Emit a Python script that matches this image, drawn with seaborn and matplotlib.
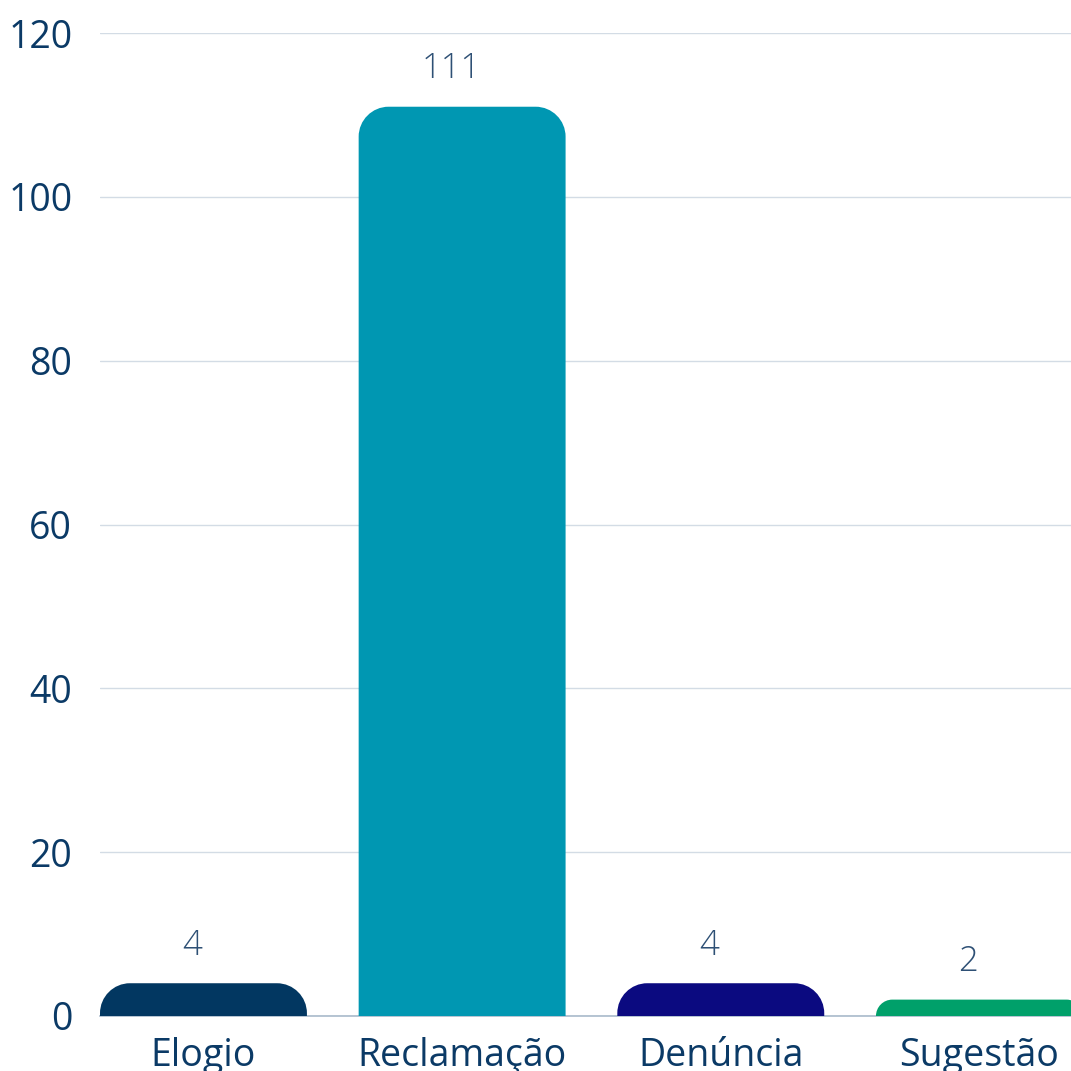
import matplotlib
matplotlib.use("Agg")
import matplotlib.pyplot as plt
from matplotlib.path import Path
from matplotlib.patches import PathPatch
import seaborn as sns
import pandas as pd

categorias = ["Elogio", "Reclamação", "Denúncia", "Sugestão"]
quantidades = [4, 111, 4, 2]
cores = ["#023761", "#0097B2", "#0B0A80", "#00A06A"]
ticks_y = [0, 20, 40, 60, 80, 100, 120]

sns.set_theme(style="white")
plt.rcParams["font.family"] = ["Open Sans", "DejaVu Sans"]

W = H = 1071
DPI = 100
fig = plt.figure(figsize=(W / DPI, H / DPI), dpi=DPI)
left_px, right_px, top_px, bottom_px = 100, 1071, 33, 1016
ax = fig.add_axes([left_px / W, (H - bottom_px) / H,
                   (right_px - left_px) / W, (bottom_px - top_px) / H])

df = pd.DataFrame({"categoria": categorias, "quantidade": quantidades})
sns.barplot(data=df, x="categoria", y="quantidade", hue="categoria",
            palette=cores, saturation=1, width=0.8, legend=False, ax=ax,
            zorder=3)

xmin, xmax = -0.4, 3.354
ax.set_xlim(xmin, xmax)
ax.set_ylim(0, 120)

# pixel scale of each axis, used to keep the corner radius round on screen
px_x = (right_px - left_px) / (xmax - xmin)
px_y = (bottom_px - top_px) / 120.0
radius_px = 30
k = 0.5523

for patch in list(ax.patches):
    x0, y0 = patch.get_x(), patch.get_y()
    w, h = patch.get_width(), patch.get_height()
    x1, y1 = x0 + w, y0 + h
    r = min(radius_px, h * px_y)
    rx, ry = r / px_x, r / px_y
    verts = [
        (x0, y0), (x0, y1 - ry),
        (x0, y1 - ry + k * ry), (x0 + rx - k * rx, y1), (x0 + rx, y1),
        (x1 - rx, y1),
        (x1 - rx + k * rx, y1), (x1, y1 - ry + k * ry), (x1, y1 - ry),
        (x1, y0), (x0, y0),
    ]
    codes = [Path.MOVETO, Path.LINETO,
             Path.CURVE4, Path.CURVE4, Path.CURVE4,
             Path.LINETO,
             Path.CURVE4, Path.CURVE4, Path.CURVE4,
             Path.LINETO, Path.CLOSEPOLY]
    rounded = PathPatch(Path(verts, codes), facecolor=patch.get_facecolor(),
                        edgecolor="none", zorder=3)
    ax.add_patch(rounded)
    patch.remove()

for i, v in enumerate(quantidades):
    ax.annotate(str(v), xy=(i, v), xytext=(-8, 27), textcoords="offset points",
                ha="center", va="center", fontsize=25, fontweight="light",
                color="#2E5075", zorder=4)

ax.set_yticks(ticks_y)
ax.set_yticklabels([str(t) for t in ticks_y])
ax.grid(axis="y", color="#D3DCE5", linewidth=1, zorder=0)
ax.grid(axis="x", visible=False)
ax.set_axisbelow(True)

for side in ["left", "right", "top"]:
    ax.spines[side].set_visible(False)
ax.spines["bottom"].set_color("#A9BACB")
ax.spines["bottom"].set_linewidth(1.2)
ax.spines["bottom"].set_zorder(2)

ax.tick_params(axis="y", length=0, pad=20, labelsize=27, labelcolor="#0B3A66")
ax.tick_params(axis="x", length=0, pad=15, labelsize=27, labelcolor="#0B3A66")
ax.set_xlabel("")
ax.set_ylabel("")

fig.savefig("out.png", dpi=DPI)
